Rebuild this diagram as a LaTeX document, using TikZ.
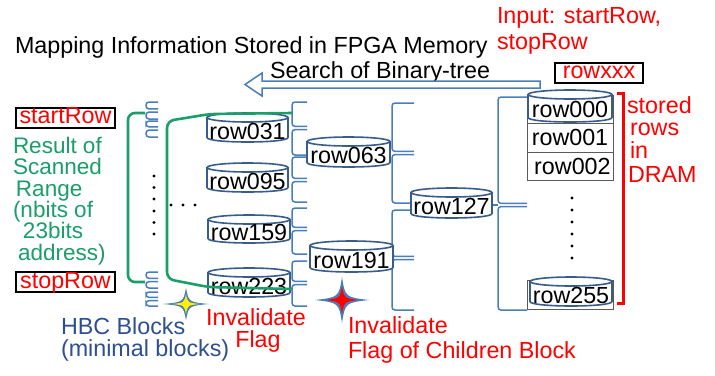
\documentclass[tikz,border=0pt]{standalone}
\usepackage{fontspec}
\setmainfont{Liberation Sans}
\definecolor{brblue}{HTML}{4A7EBB}
\definecolor{cylblue}{HTML}{385D8A}
\definecolor{scangreen}{HTML}{1A9E6A}
\definecolor{hbcblue}{HTML}{2E5090}
\definecolor{dramgray}{HTML}{5A5A5A}

\tikzset{
  txt/.style={inner sep=0pt, outer sep=0pt, font=\fontsize{23.3}{27}\selectfont},
  lbl/.style={txt, anchor=base west},
  redlbl/.style={lbl, text=red},
  greenlbl/.style={lbl, text=scangreen, font=\fontsize{22.5}{26}\selectfont},
  bluelbl/.style={lbl, text=hbcblue},
  rowlbl/.style={txt},
  framebox/.style={txt, draw=black, line width=2pt, text height=16pt, text depth=4pt},
  cellbox/.style={txt, draw=dramgray, line width=0.8pt, minimum width=86pt},
  brc/.style={draw=brblue, line width=1.5pt, rounded corners=3pt},
  cyl/.style={draw=cylblue, line width=1.6pt},
  scanline/.style={draw=scangreen, line width=2.6pt, rounded corners=7pt},
  dot/.style={fill=black},
}

% cylinder: name, x left, x right, top, bottom, label
\newcommand\drum[6]{%
  \pgfmathsetmacro\cx{(#2+#3)/2}%
  \pgfmathsetmacro\rx{(#3-#2)/2}%
  \fill[white] (#2,#4+4.5) -- (#2,#5-4.5) .. controls (#2,#5+1.5) and (#3,#5+1.5) .. (#3,#5-4.5) -- (#3,#4+4.5) -- cycle;
  \draw[cyl] (#2,#4+4.5) -- (#2,#5-4.5) .. controls (#2,#5+1.5) and (#3,#5+1.5) .. (#3,#5-4.5) -- (#3,#4+4.5);
  \filldraw[cyl, fill=white] (\cx,#4+4.5) ellipse [x radius=\rx pt, y radius=4.5pt];
  \node[rowlbl] (#1) at (\cx,{(#4+#5)/2+3.5}) {#6};
}

% brace with hooks: x of spine, x of prong ends, top, middle, bottom
\newcommand\hooks[5]{%
  \draw[brc] (#2,#3) -- (#1,#3) -- (#1,#4-1.6) -- (#2,#4-1.6);
  \draw[brc] (#2,#4+1.6) -- (#1,#4+1.6) -- (#1,#5) -- (#2,#5);
}

% four-point sparkle: cx, cy, half width, half height, core colour
\newcommand\spark[5]{%
  \fill[brblue] (#1+#3,#2) .. controls (#1+0.12*#3,#2+0.12*#4) .. (#1,#2+#4)
    .. controls (#1-0.12*#3,#2+0.12*#4) .. (#1-#3,#2)
    .. controls (#1-0.12*#3,#2-0.12*#4) .. (#1,#2-#4)
    .. controls (#1+0.12*#3,#2-0.12*#4) .. (#1+#3,#2) -- cycle;
  \fill[#5] (#1+0.6*#3,#2) .. controls (#1+0.08*#3,#2+0.08*#4) .. (#1,#2+0.6*#4)
    .. controls (#1-0.08*#3,#2+0.08*#4) .. (#1-0.6*#3,#2)
    .. controls (#1-0.08*#3,#2-0.08*#4) .. (#1,#2-0.6*#4)
    .. controls (#1+0.08*#3,#2-0.08*#4) .. (#1+0.6*#3,#2) -- cycle;
}

\begin{document}
\begin{tikzpicture}[x=1pt,y=-1pt]
\useasboundingbox (0,0) rectangle (715,375);
\fill[white] (0,0) rectangle (715,375);

% headings
\node[lbl] (title) at (15,53) {Mapping Information Stored in FPGA Memory};
\node[lbl] (search) at (270,78) {Search of Binary-tree};
\node[redlbl] (input1) at (497,23) {Input: startRow,};
\node[redlbl] (input2) at (497,49) {stopRow};
\node[framebox, text=red, minimum width=88pt] (rowxxx) at (599,72.5) {rowxxx};

% search direction arrow
\draw[brblue, line width=1.5pt, fill=white, line join=miter]
  (540,81) -- (262,81) -- (262,73) -- (245,84.5) -- (262,96) -- (262,88) -- (540,88) -- cycle;

% scan range boxes and text
\node[framebox, text=red, minimum width=99pt] (startrow) at (65.5,117.5) {startRow};
\node[framebox, text=red, minimum width=99pt] (stoprow) at (65.5,282) {stopRow};
\node[greenlbl] (res1) at (13,153) {Result of};
\node[greenlbl] (res2) at (13,174) {Scanned};
\node[greenlbl] (res3) at (16,196) {Range};
\node[greenlbl] (res4) at (13,217) {(nbits of};
\node[greenlbl] (res5) at (23,238) {23bits};
\node[greenlbl] (res6) at (18,260) {address)};

% HBC leaf braces
\hooks{146}{158}{102}{110.5}{119}
\hooks{146}{158}{121}{128.5}{137}
\hooks{146}{158}{272}{280}{288}
\hooks{146}{158}{292}{299}{306}

% level braces
\hooks{292}{307}{102}{128}{155}
\hooks{292}{307}{157}{180}{202}
\hooks{292}{307}{208}{229}{254}
\hooks{292}{307}{261}{283}{306}
\hooks{392}{414}{103}{153}{203}
\hooks{392}{414}{210}{258}{310}
\hooks{498}{527}{97}{205}{310}
\draw[brc] (492,205) -- (498,205);

% DRAM rows
\draw[dramgray, line width=0.8pt] (527,95) rectangle (613,123);
\node[cellbox, minimum height=29pt] (row001) at (570,137.5) {row001};
\node[cellbox, minimum height=28pt] (row002) at (570.5,166) {\,row002};
\draw[dramgray, line width=0.8pt] (527,280) rectangle (613,309);
\foreach \k/\yy in {1/198,2/210,3/222,4/234,5/246,6/258}
  \fill[dot] (572,\yy) circle (1.7pt) coordinate (dd\k);

% tree nodes
\drum{r031}{207}{288}{113}{142}{row031}
\drum{r095}{207}{288}{163}{192}{row095}
\drum{r159}{208}{290}{215}{243}{row159}
\drum{r223}{208}{290}{268}{297}{row223}
\drum{r063}{307}{390}{137}{167}{row063}
\drum{r191}{310}{393}{241}{272}{row191}
\drum{r127}{411}{492}{188}{218}{row127}
\drum{r000}{528}{612}{90}{122}{row000}
\drum{r255}{530}{612}{277}{306}{row255}

% elided leaves
\foreach \k/\yy in {1/176,2/187.5,3/199,4/211,5/222.5,6/234}
  \fill[dot] (154,\yy) circle (1.7pt) coordinate (vd\k);
\foreach \k/\xx in {1/171,2/183,3/195}
  \fill[dot] (\xx,205) circle (1.7pt) coordinate (hd\k);

% scanned range brackets
\draw[scanline] (145,113) -- (128,113) -- (128,282) -- (145,282);
\draw[scanline] (292,113) -- (210,114) -- (167,121) -- (167,279) -- (208,287) -- (292,289);

% DRAM bracket and text
\draw[red, line width=3pt] (617,93) -- (623,93) -- (623,303) -- (617,303);
\node[redlbl] (st1) at (627,113) {stored};
\node[redlbl] (st2) at (630,135) {rows};
\node[redlbl] (st3) at (630,158) {in};
\node[redlbl] (st4) at (628,182) {DRAM};

% flags
\spark{186}{304}{23}{16}{yellow}
\spark{342}{300}{27}{23}{red}
\node[bluelbl] (hbc1) at (61,334) {HBC Blocks};
\node[bluelbl] (hbc2) at (61,356) {(minimal blocks)};
\node[txt, anchor=base, text=red] (inv1) at (256,325) {Invalidate};
\node[txt, anchor=base, text=red] (inv2) at (258,347) {Flag};
\node[redlbl] (chl1) at (348,333) {Invalidate};
\node[redlbl] (chl2) at (348,358) {Flag of Children Block};
\end{tikzpicture}
\end{document}
